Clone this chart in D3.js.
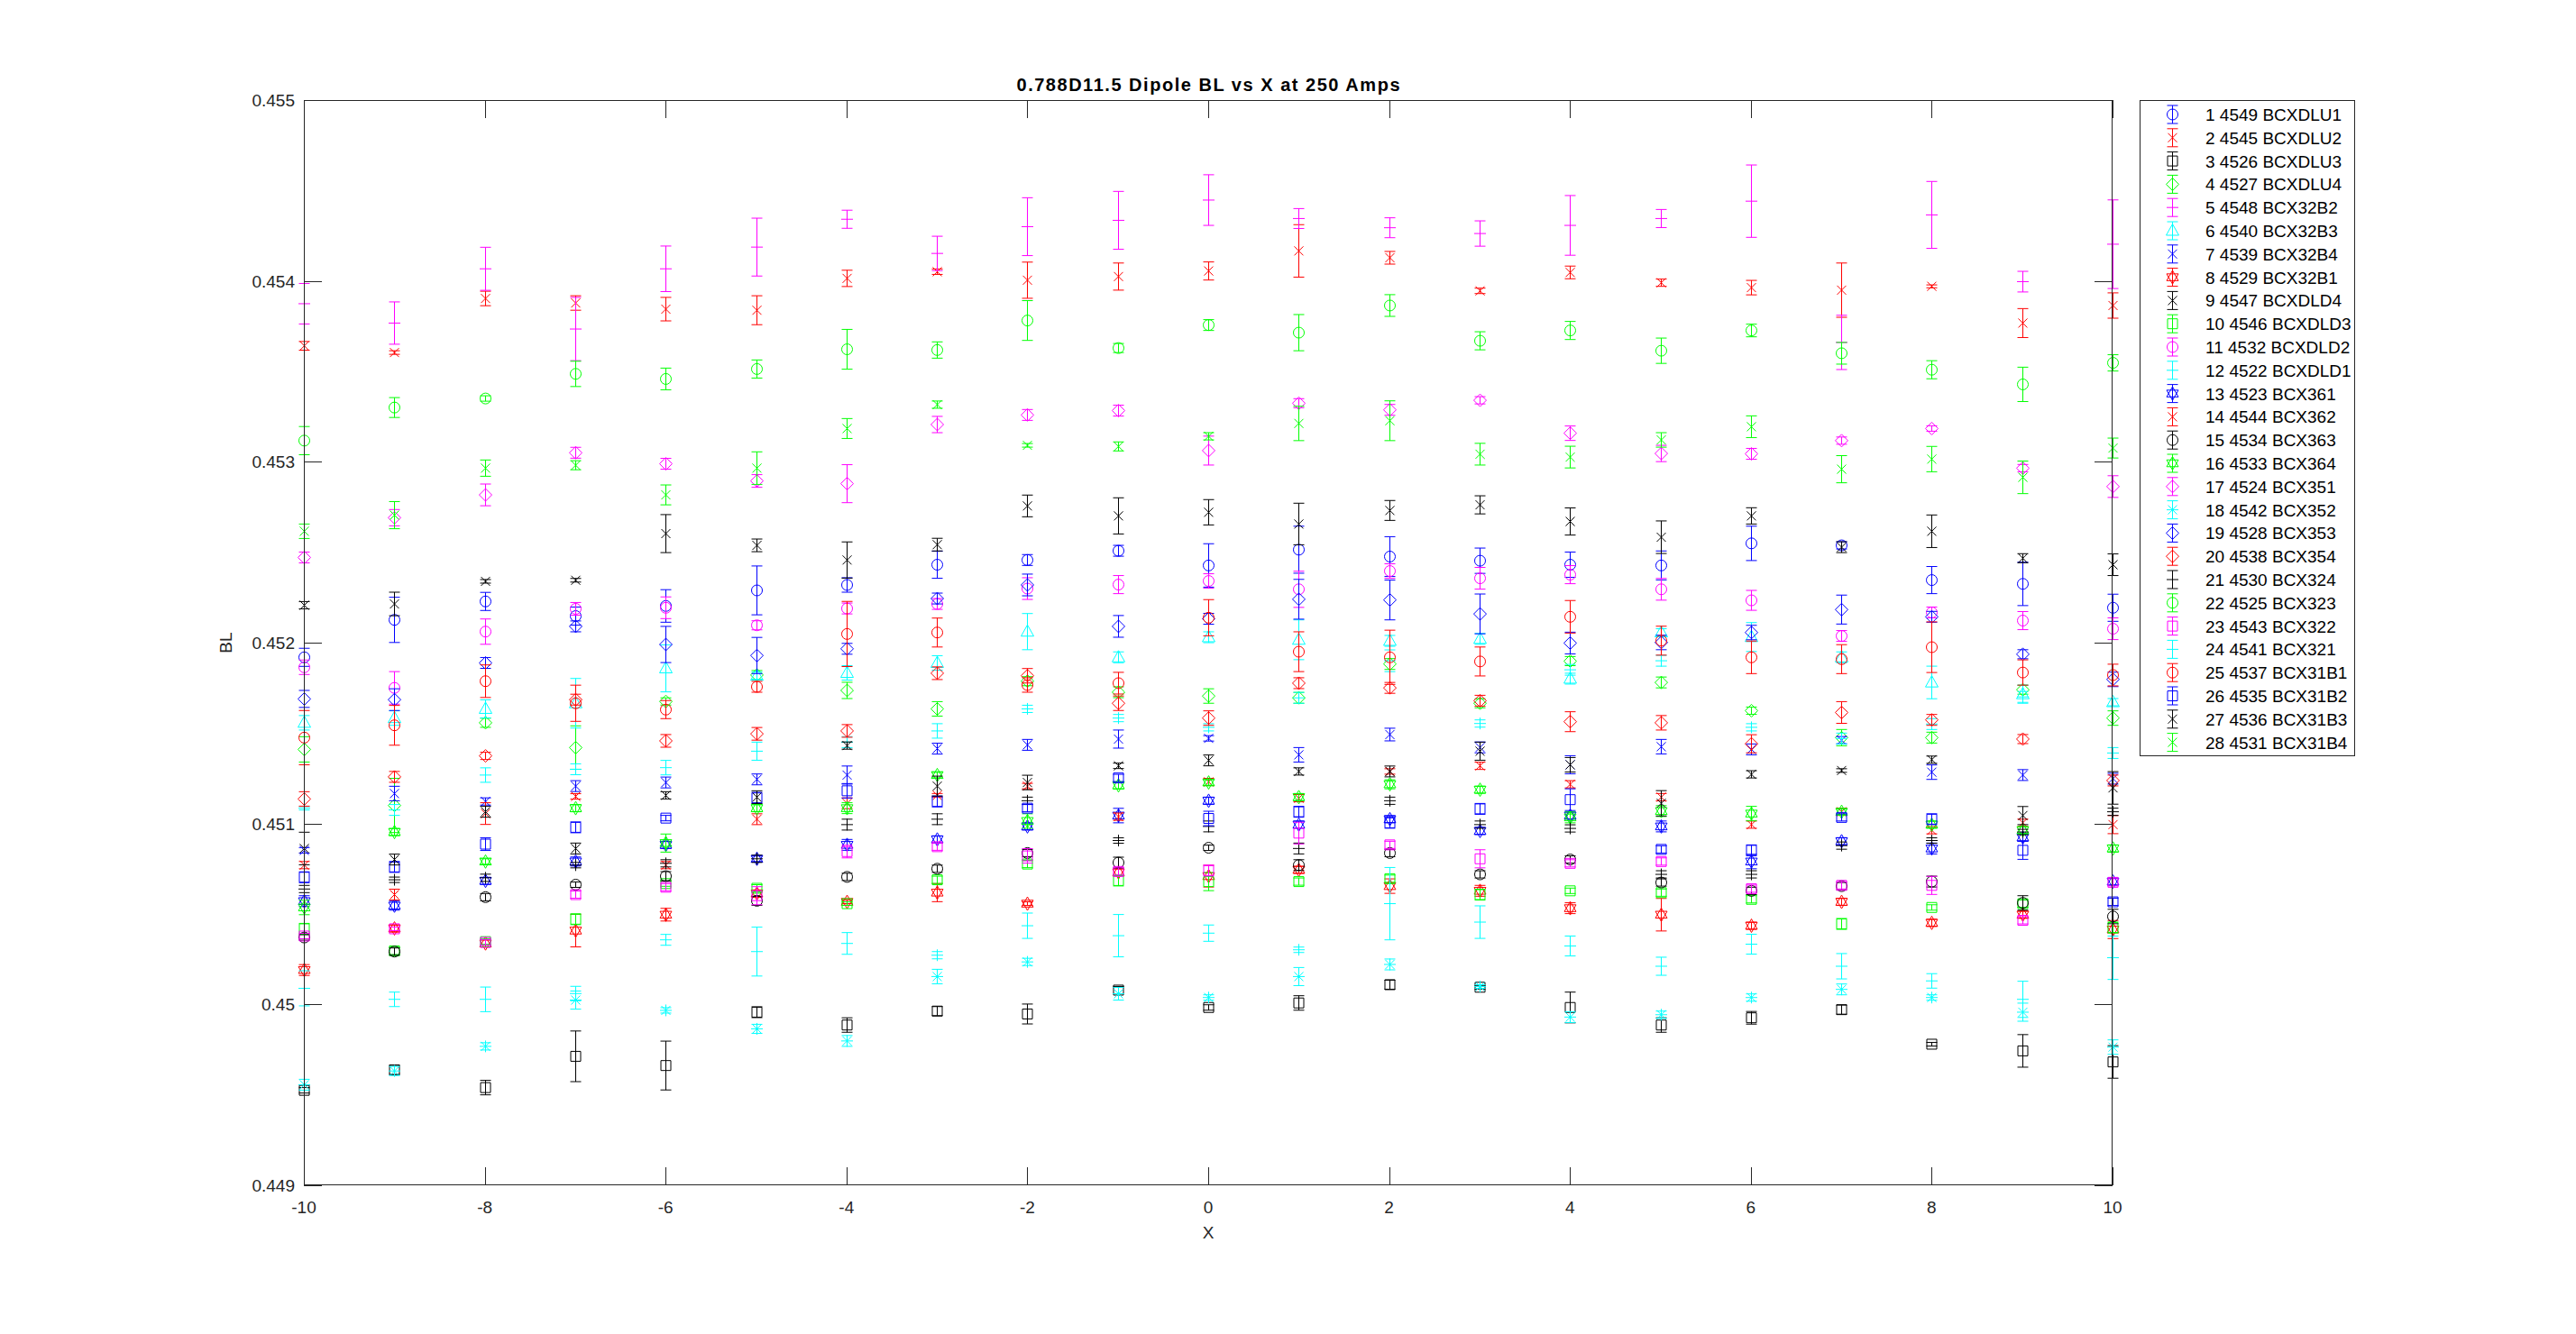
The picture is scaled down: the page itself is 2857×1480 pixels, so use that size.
<!DOCTYPE html>
<html><head><meta charset="utf-8">
<script src="https://cdn.jsdelivr.net/npm/d3@7/dist/d3.min.js"></script>
<style>
html,body{margin:0;padding:0;background:#fff;}
svg{display:block;}
text{font-family:"Liberation Sans",Arial,Helvetica,sans-serif;}
</style></head>
<body>
<svg id="chart" width="2857" height="1480"></svg>
<script>
const xValues = [-10,-9,-8,-7,-6,-5,-4,-3,-2,-1,0,1,2,3,4,5,6,7,8,9,10];
const xTicks = [-10,-8,-6,-4,-2,0,2,4,6,8,10];
const yTicks = [0.449,0.450,0.451,0.452,0.453,0.454,0.455];
const yTickLabels = ["0.449","0.45","0.451","0.452","0.453","0.454","0.455"];
const titleText = "0.788D11.5 Dipole BL vs X at 250 Amps";
const xLabel = "X";
const yLabel = "BL";

const seriesNames = ["1 4549 BCXDLU1","2 4545 BCXDLU2","3 4526 BCXDLU3","4 4527 BCXDLU4","5 4548 BCX32B2","6 4540 BCX32B3","7 4539 BCX32B4","8 4529 BCX32B1","9 4547 BCXDLD4","10 4546 BCXDLD3","11 4532 BCXDLD2","12 4522 BCXDLD1","13 4523 BCX361","14 4544 BCX362","15 4534 BCX363","16 4533 BCX364","17 4524 BCX351","18 4542 BCX352","19 4528 BCX353","20 4538 BCX354","21 4530 BCX324","22 4525 BCX323","23 4543 BCX322","24 4541 BCX321","25 4537 BCX31B1","26 4535 BCX31B2","27 4536 BCX31B3","28 4531 BCX31B4"];
const seriesColors = ["b","r","k","g","m","c","b","r","k","g","m","c","b","r","k","g","m","c","b","r","k","g","m","c","r","b","k","g"];
const seriesMarkers = ["o","x","s","d","+","^","x","h","x","s","o","+","h","x","o","h","d","*","d","d","+","o","s","+","o","s","x","x"];

const bl01=[0.451919,0.452126,0.452228,0.452147,0.452203,0.452289,0.452319,0.452431,0.452457,0.452508,0.452427,0.452514,0.452476,0.452453,0.452431,0.452427,0.452549,0.452538,0.452346,0.452325,0.452193];
const er01=[0.000050,0.000125,0.000050,0.000050,0.000090,0.000135,0.000040,0.000075,0.000030,0.000030,0.000120,0.000130,0.000110,0.000070,0.000070,0.000080,0.000095,0.000020,0.000075,0.000120,0.000075];
const bl02=[0.453641,0.453604,0.453903,0.453878,0.453844,0.453838,0.454014,0.454051,0.454004,0.454024,0.454055,0.454166,0.454128,0.453945,0.454047,0.453990,0.453963,0.453949,0.453970,0.453767,0.453864];
const er02=[0.000024,0.000010,0.000040,0.000040,0.000065,0.000080,0.000045,0.000015,0.000100,0.000075,0.000050,0.000145,0.000035,0.000015,0.000035,0.000020,0.000040,0.000150,0.000008,0.000080,0.000070];
const bl03=[0.449525,0.449638,0.449540,0.449713,0.449662,0.449957,0.449886,0.449963,0.449947,0.450079,0.449983,0.450008,0.450109,0.450095,0.449983,0.449886,0.449926,0.449971,0.449780,0.449743,0.449682];
const er03=[0.000015,0.000025,0.000040,0.000140,0.000135,0.000030,0.000040,0.000025,0.000055,0.000020,0.000015,0.000040,0.000025,0.000010,0.000085,0.000040,0.000035,0.000025,0.000010,0.000090,0.000090];
const bl04=[0.451410,0.451100,0.451557,0.451420,0.451675,0.451821,0.451736,0.451634,0.451787,0.451726,0.451705,0.451695,0.451882,0.451665,0.451898,0.451780,0.451624,0.451475,0.451475,0.451740,0.451583];
const er04=[0.000070,0.000150,0.000025,0.000120,0.000020,0.000025,0.000045,0.000040,0.000025,0.000030,0.000040,0.000030,0.000030,0.000025,0.000025,0.000030,0.000020,0.000045,0.000030,0.000025,0.000040];
const bl05=[0.453874,0.453767,0.454067,0.453734,0.454067,0.454187,0.454341,0.454152,0.454300,0.454335,0.454447,0.454345,0.454294,0.454262,0.454307,0.454345,0.454441,0.453660,0.454365,0.453996,0.454203];
const er05=[0.000112,0.000117,0.000119,0.000175,0.000126,0.000160,0.000050,0.000095,0.000160,0.000160,0.000140,0.000055,0.000055,0.000070,0.000165,0.000050,0.000200,0.000150,0.000185,0.000057,0.000245];
const bl06=[0.451557,0.451583,0.451634,0.451665,0.451858,0.451817,0.451833,0.451888,0.452061,0.451919,0.452030,0.452016,0.452010,0.452021,0.451801,0.452057,0.452031,0.451919,0.451780,0.451715,0.451671];
const er06=[0.000040,0.000040,0.000050,0.000137,0.000130,0.000020,0.000040,0.000040,0.000100,0.000030,0.000030,0.000110,0.000030,0.000030,0.000030,0.000020,0.000080,0.000030,0.000090,0.000050,0.000020];
const bl07=[0.450852,0.451166,0.451122,0.451207,0.451227,0.451244,0.451268,0.451414,0.451435,0.451467,0.451471,0.451380,0.451492,0.451421,0.451325,0.451425,0.451410,0.451461,0.451284,0.451268,0.451248];
const er07=[0.000015,0.000040,0.000020,0.000030,0.000030,0.000030,0.000050,0.000030,0.000030,0.000050,0.000015,0.000040,0.000035,0.000030,0.000050,0.000040,0.000030,0.000020,0.000040,0.000030,0.000030];
const bl08=[0.450190,0.450420,0.450337,0.450408,0.450496,0.450613,0.450567,0.450618,0.450557,0.450730,0.450709,0.450744,0.450654,0.450628,0.450532,0.450496,0.450435,0.450567,0.450451,0.450496,0.450414];
const er08=[0.000030,0.000020,0.000020,0.000090,0.000035,0.000020,0.000010,0.000050,0.000010,0.000020,0.000060,0.000020,0.000040,0.000030,0.000030,0.000090,0.000020,0.000020,0.000020,0.000020,0.000050];
const bl09=[0.452207,0.452214,0.452339,0.452345,0.452603,0.452538,0.452457,0.452542,0.452756,0.452701,0.452721,0.452656,0.452731,0.452762,0.452670,0.452583,0.452701,0.452528,0.452616,0.452467,0.452431];
const er09=[0.000020,0.000065,0.000010,0.000010,0.000105,0.000035,0.000100,0.000035,0.000060,0.000100,0.000070,0.000115,0.000055,0.000050,0.000075,0.000090,0.000045,0.000030,0.000090,0.000025,0.000060];
const bl10=[0.450418,0.450296,0.450347,0.450471,0.450668,0.450642,0.450557,0.450689,0.450776,0.450685,0.450679,0.450679,0.450695,0.450607,0.450628,0.450618,0.450581,0.450445,0.450536,0.450557,0.450425];
const er10=[0.000030,0.000020,0.000015,0.000030,0.000015,0.000020,0.000010,0.000020,0.000020,0.000030,0.000050,0.000020,0.000020,0.000030,0.000015,0.000020,0.000020,0.000030,0.000015,0.000020,0.000030];
const bl11=[0.451864,0.451750,0.452061,0.452187,0.452193,0.452096,0.452189,0.452214,0.452299,0.452321,0.452341,0.452295,0.452396,0.452356,0.452376,0.452295,0.452234,0.452037,0.452167,0.452122,0.452077];
const er11=[0.000040,0.000090,0.000070,0.000035,0.000060,0.000025,0.000030,0.000030,0.000060,0.000050,0.000040,0.000100,0.000040,0.000060,0.000050,0.000060,0.000055,0.000030,0.000030,0.000050,0.000060];
const bl12=[0.451085,0.451075,0.451268,0.451300,0.451309,0.451400,0.451450,0.451512,0.451634,0.451583,0.451532,0.451695,0.451900,0.451553,0.451850,0.451900,0.451532,0.451470,0.451550,0.451700,0.451390];
const er12=[0.000010,0.000030,0.000040,0.000030,0.000040,0.000050,0.000030,0.000040,0.000020,0.000020,0.000020,0.000030,0.000060,0.000020,0.000030,0.000030,0.000020,0.000030,0.000030,0.000030,0.000030];
const bl13=[0.450571,0.450546,0.450683,0.450790,0.450882,0.450805,0.450882,0.450912,0.450984,0.451044,0.451126,0.450994,0.451024,0.450959,0.451044,0.450984,0.450790,0.450902,0.450862,0.450923,0.450679];
const er13=[0.000030,0.000025,0.000020,0.000025,0.000020,0.000015,0.000030,0.000020,0.000020,0.000040,0.000020,0.000020,0.000020,0.000020,0.000020,0.000030,0.000040,0.000020,0.000030,0.000020,0.000020];
const bl14=[0.450770,0.450607,0.451055,0.451150,0.450770,0.451024,0.451112,0.451156,0.451207,0.451038,0.451230,0.451140,0.451288,0.451319,0.451217,0.451146,0.450994,0.451065,0.450963,0.451004,0.450994];
const er14=[0.000020,0.000030,0.000060,0.000015,0.000020,0.000030,0.000030,0.000010,0.000015,0.000020,0.000020,0.000020,0.000015,0.000020,0.000020,0.000020,0.000020,0.000020,0.000020,0.000020,0.000050];
const bl15=[0.450370,0.450292,0.450593,0.450662,0.450709,0.450573,0.450705,0.450750,0.450837,0.450784,0.450866,0.450770,0.450837,0.450719,0.450801,0.450674,0.450628,0.450654,0.450679,0.450561,0.450486];
const er15=[0.000015,0.000020,0.000020,0.000015,0.000025,0.000025,0.000020,0.000020,0.000020,0.000030,0.000015,0.000030,0.000020,0.000020,0.000020,0.000020,0.000020,0.000020,0.000030,0.000040,0.000040];
const bl16=[0.450536,0.450953,0.450790,0.451085,0.450892,0.451085,0.451085,0.451268,0.451014,0.451211,0.451227,0.451146,0.451217,0.451187,0.451034,0.451069,0.451055,0.451065,0.450994,0.450963,0.450862];
const er16=[0.000040,0.000020,0.000015,0.000020,0.000050,0.000020,0.000030,0.000015,0.000040,0.000020,0.000015,0.000020,0.000025,0.000020,0.000030,0.000030,0.000040,0.000015,0.000020,0.000020,0.000020];
const bl17=[0.452471,0.452691,0.452817,0.453050,0.452989,0.452894,0.452879,0.453206,0.453259,0.453283,0.453062,0.453324,0.453287,0.453340,0.453158,0.453046,0.453044,0.453117,0.453184,0.452965,0.452863];
const er17=[0.000030,0.000045,0.000060,0.000030,0.000030,0.000035,0.000105,0.000045,0.000030,0.000030,0.000080,0.000025,0.000030,0.000020,0.000040,0.000045,0.000030,0.000020,0.000015,0.000020,0.000060];
const bl18=[0.449556,0.449632,0.449768,0.450024,0.449967,0.449865,0.449798,0.450154,0.450235,0.450059,0.450038,0.450154,0.450221,0.450099,0.449930,0.449943,0.450038,0.450083,0.450038,0.449957,0.449764];
const er18=[0.000030,0.000025,0.000020,0.000050,0.000015,0.000025,0.000030,0.000040,0.000020,0.000035,0.000015,0.000050,0.000030,0.000010,0.000030,0.000020,0.000020,0.000030,0.000015,0.000050,0.000040];
const bl19=[0.451689,0.451685,0.451888,0.452090,0.451990,0.451929,0.451966,0.452244,0.452319,0.452090,0.452132,0.452240,0.452236,0.452159,0.451998,0.452001,0.452056,0.452183,0.452143,0.451936,0.451797];
const er19=[0.000047,0.000060,0.000030,0.000030,0.000100,0.000100,0.000030,0.000030,0.000060,0.000060,0.000030,0.000110,0.000110,0.000110,0.000060,0.000040,0.000040,0.000080,0.000030,0.000025,0.000040];
const bl20=[0.451136,0.451258,0.451374,0.451685,0.451457,0.451496,0.451512,0.451831,0.451817,0.451665,0.451583,0.451776,0.451750,0.451679,0.451563,0.451557,0.451441,0.451614,0.451573,0.451467,0.451238];
const er20=[0.000040,0.000030,0.000020,0.000030,0.000035,0.000035,0.000035,0.000035,0.000040,0.000040,0.000040,0.000030,0.000030,0.000030,0.000055,0.000040,0.000050,0.000060,0.000030,0.000025,0.000030];
const bl21=[0.450638,0.450689,0.450700,0.450770,0.450780,0.450805,0.450994,0.451024,0.451126,0.450906,0.450984,0.450862,0.451126,0.450994,0.450973,0.450719,0.450719,0.450878,0.450906,0.450953,0.451065];
const er21=[0.000020,0.000015,0.000020,0.000015,0.000020,0.000020,0.000030,0.000030,0.000020,0.000015,0.000030,0.000030,0.000020,0.000020,0.000020,0.000020,0.000020,0.000020,0.000015,0.000015,0.000020];
const bl22=[0.453117,0.453300,0.453350,0.453486,0.453458,0.453513,0.453622,0.453618,0.453781,0.453629,0.453756,0.453714,0.453864,0.453669,0.453726,0.453614,0.453726,0.453600,0.453509,0.453428,0.453547];
const er22=[0.000078,0.000055,0.000015,0.000070,0.000060,0.000050,0.000110,0.000045,0.000110,0.000025,0.000030,0.000100,0.000060,0.000050,0.000050,0.000070,0.000035,0.000060,0.000050,0.000095,0.000045];
const bl23=[0.450378,0.450418,0.450343,0.450607,0.450648,0.450601,0.450845,0.450872,0.450821,0.450735,0.450740,0.450947,0.450882,0.450805,0.450780,0.450790,0.450640,0.450658,0.450658,0.450465,0.450675];
const er23=[0.000015,0.000010,0.000015,0.000020,0.000020,0.000050,0.000035,0.000020,0.000040,0.000020,0.000030,0.000060,0.000020,0.000050,0.000020,0.000020,0.000020,0.000020,0.000050,0.000020,0.000020];
const bl24=[0.450089,0.450028,0.450028,0.450060,0.450357,0.450292,0.450337,0.450272,0.450435,0.450380,0.450394,0.450302,0.450557,0.450455,0.450323,0.450211,0.450333,0.450211,0.450130,0.450028,0.450258];
const er24=[0.000097,0.000040,0.000068,0.000040,0.000030,0.000135,0.000060,0.000020,0.000070,0.000117,0.000045,0.000015,0.000200,0.000090,0.000055,0.000050,0.000055,0.000070,0.000040,0.000100,0.000120];
const bl25=[0.451475,0.451543,0.451787,0.451665,0.451630,0.451756,0.452048,0.452056,0.451766,0.451776,0.452138,0.451950,0.451919,0.451896,0.452143,0.452011,0.451919,0.451909,0.451975,0.451835,0.451821];
const er25=[0.000150,0.000110,0.000090,0.000100,0.000050,0.000030,0.000180,0.000080,0.000040,0.000060,0.000100,0.000110,0.000150,0.000080,0.000090,0.000080,0.000090,0.000080,0.000140,0.000070,0.000060];
const bl26=[0.450703,0.450760,0.450886,0.450979,0.451030,0.451142,0.451181,0.451122,0.451085,0.451252,0.451028,0.451065,0.451004,0.451081,0.451132,0.450857,0.450852,0.451034,0.451024,0.450852,0.450567];
const er26=[0.000030,0.000030,0.000035,0.000030,0.000015,0.000030,0.000040,0.000030,0.000020,0.000020,0.000040,0.000030,0.000030,0.000030,0.000060,0.000020,0.000030,0.000020,0.000030,0.000050,0.000020];
const bl27=[0.450862,0.450801,0.451065,0.450862,0.451156,0.451146,0.451431,0.451207,0.451227,0.451319,0.451349,0.451288,0.451288,0.451400,0.451325,0.451112,0.451272,0.451293,0.451353,0.451044,0.451197];
const er27=[0.000090,0.000030,0.000030,0.000030,0.000020,0.000035,0.000020,0.000055,0.000040,0.000015,0.000030,0.000020,0.000030,0.000050,0.000040,0.000070,0.000020,0.000010,0.000020,0.000050,0.000090];
const bl28=[0.452616,0.452705,0.452965,0.452981,0.452817,0.452965,0.453184,0.453316,0.453091,0.453085,0.453141,0.453212,0.453227,0.453042,0.453026,0.453121,0.453194,0.452959,0.453015,0.452914,0.453076];
const er28=[0.000040,0.000075,0.000045,0.000025,0.000055,0.000090,0.000055,0.000020,0.000010,0.000025,0.000020,0.000095,0.000110,0.000060,0.000060,0.000040,0.000060,0.000075,0.000070,0.000090,0.000055];

const seriesValues=[bl01,bl02,bl03,bl04,bl05,bl06,bl07,bl08,bl09,bl10,bl11,bl12,bl13,bl14,bl15,bl16,bl17,bl18,bl19,bl20,bl21,bl22,bl23,bl24,bl25,bl26,bl27,bl28];
const seriesErrors=[er01,er02,er03,er04,er05,er06,er07,er08,er09,er10,er11,er12,er13,er14,er15,er16,er17,er18,er19,er20,er21,er22,er23,er24,er25,er26,er27,er28];

const colorMap={b:"#0000ff",r:"#ff0000",k:"#000000",g:"#00ff00",m:"#ff00ff",c:"#00ffff"};
const axisColor="#262626";

const svg=d3.select("#chart");
const L=337,R=2343,T=111,B=1315;
const x=d3.scaleLinear().domain([-10,10]).range([L,R]);
const y=d3.scaleLinear().domain([0.449,0.455]).range([B,T]);

function markerPath(m){
  switch(m){
    case "s": return "M-5.5,-5.5H5.5V5.5H-5.5Z";
    case "d": return "M0,-7L7,0L0,7L-7,0Z";
    case "^": return "M0,-7.5L7,5L-7,5Z";
    case "x": return "M-5,-5L5,5M-5,5L5,-5";
    case "+": return "M-6.5,0H6.5M0,-6.5V6.5";
    case "*": return "M-6.5,0H6.5M0,-6.5V6.5M-5,-5L5,5M-5,5L5,-5";
    case "h": return "M0,-7.5L6.5,3.75L-6.5,3.75ZM0,7.5L6.5,-3.75L-6.5,-3.75Z";
  }
  return "";
}
function drawMarker(g,m,col,cx,cy){
  if(m==="o"){
    g.append("circle").attr("cx",cx).attr("cy",cy).attr("r",6)
      .attr("fill","none").attr("stroke",col).attr("stroke-width",1);
  } else {
    g.append("path").attr("d",markerPath(m)).attr("transform",`translate(${cx},${cy})`)
      .attr("fill","none").attr("stroke",col).attr("stroke-width",1);
  }
}

svg.append("rect").attr("x",L).attr("y",T).attr("width",R-L).attr("height",B-T)
  .attr("fill","#fff").attr("stroke","none");

// data: error bars with caps and markers, series drawn in order
const dataG=svg.append("g");
seriesValues.forEach((vals,si)=>{
  const col=colorMap[seriesColors[si]];
  const g=dataG.append("g");
  vals.forEach((v,i)=>{
    const cx=Math.round(x(xValues[i]))+0.5;
    const e=seriesErrors[si][i];
    const y1=y(v+e), y2=y(v-e);
    g.append("line").attr("x1",cx).attr("x2",cx).attr("y1",y1).attr("y2",y2)
      .attr("stroke",col).attr("stroke-width",1);
    [y1,y2].forEach(yy=>g.append("line").attr("x1",cx-6).attr("x2",cx+6).attr("y1",yy).attr("y2",yy)
      .attr("stroke",col).attr("stroke-width",1));
    drawMarker(g,seriesMarkers[si],col,cx,y(v));
  });
});

// frame and inward ticks on all four sides
const frame=svg.append("g").attr("stroke",axisColor).attr("stroke-width",1).attr("fill","none");
frame.append("rect").attr("x",L+0.5).attr("y",T+0.5).attr("width",R-L-1).attr("height",B-T-1);
const tl=20;
xTicks.forEach(t=>{
  const px=Math.round(x(t))+0.5;
  frame.append("line").attr("x1",px).attr("x2",px).attr("y1",B).attr("y2",B-tl);
  frame.append("line").attr("x1",px).attr("x2",px).attr("y1",T).attr("y2",T+tl);
});
yTicks.forEach(t=>{
  const py=Math.round(y(t))+0.5;
  frame.append("line").attr("x1",L).attr("x2",L+tl).attr("y1",py).attr("y2",py);
  frame.append("line").attr("x1",R).attr("x2",R-tl).attr("y1",py).attr("y2",py);
});

const fs=19;
const labels=svg.append("g").attr("fill",axisColor).style("font-size",fs+"px");
xTicks.forEach(t=>{
  labels.append("text").attr("x",x(t)).attr("y",B+31).attr("text-anchor","middle").text(String(t));
});
yTicks.forEach((t,i)=>{
  labels.append("text").attr("x",L-10).attr("y",y(t)+7).attr("text-anchor","end").text(yTickLabels[i]);
});
labels.append("text").attr("x",(L+R)/2).attr("y",B+59).attr("text-anchor","middle").text(xLabel);
labels.append("text").attr("transform",`translate(${L-80},${(T+B)/2}) rotate(-90)`).attr("text-anchor","middle").text(yLabel);
svg.append("text").attr("x",(L+R)/2).attr("y",T-10).attr("text-anchor","middle")
  .attr("textLength",425).attr("lengthAdjust","spacing")
  .style("font-size","20px").style("font-weight","bold").attr("fill","#000").text(titleText);

// legend
const lg=svg.append("g");
const LX=2373, LY=111, LW=238, LH=727;
lg.append("rect").attr("x",LX+0.5).attr("y",LY+0.5).attr("width",LW).attr("height",LH)
  .attr("fill","#fff").attr("stroke",axisColor).attr("stroke-width",1);
const rowH=25.8, row0=127;
seriesNames.forEach((name,i)=>{
  const cy=row0+i*rowH;
  const col=colorMap[seriesColors[i]];
  const ix=2409.5;
  const g=lg.append("g");
  g.append("line").attr("x1",ix).attr("x2",ix).attr("y1",cy-10).attr("y2",cy+10).attr("stroke",col);
  g.append("line").attr("x1",ix-6).attr("x2",ix+6).attr("y1",cy-10).attr("y2",cy-10).attr("stroke",col);
  g.append("line").attr("x1",ix-6).attr("x2",ix+6).attr("y1",cy+10).attr("y2",cy+10).attr("stroke",col);
  drawMarker(g,seriesMarkers[i],col,ix,cy);
  lg.append("text").attr("x",2446).attr("y",cy+7).style("font-size","19px").attr("fill","#000").text(name);
});
</script>
</body></html>
